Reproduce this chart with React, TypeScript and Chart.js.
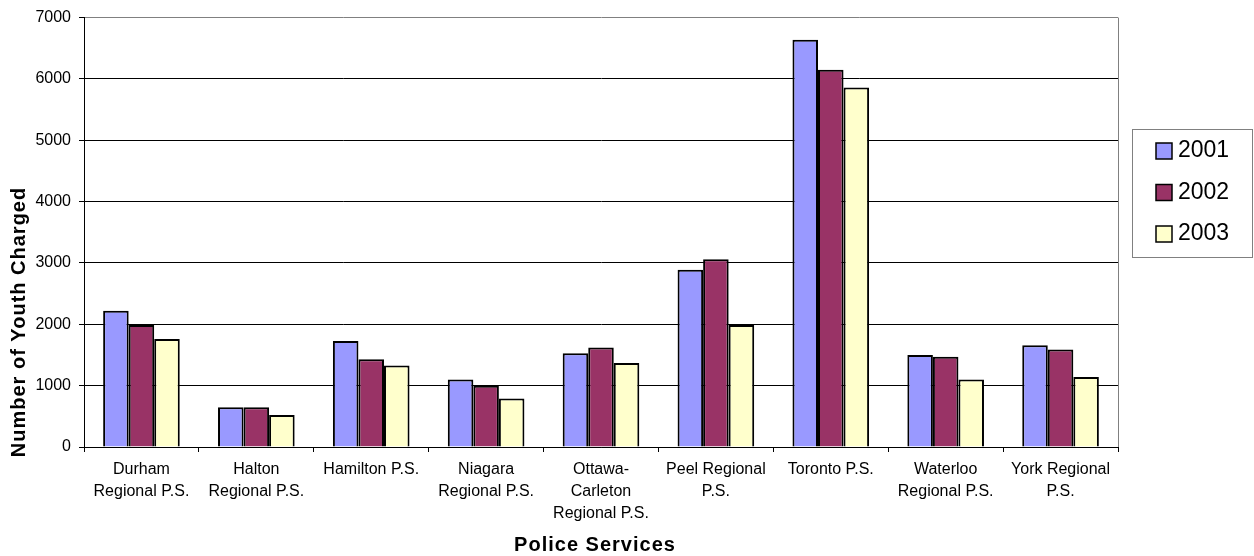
import React, { useEffect, useRef } from "react";
import { Chart, registerables } from "chart.js";

Chart.register(...registerables);

const categories: string[][] = [
  ["Durham", "Regional P.S."],
  ["Halton", "Regional P.S."],
  ["Hamilton P.S."],
  ["Niagara", "Regional P.S."],
  ["Ottawa-", "Carleton", "Regional P.S."],
  ["Peel Regional", "P.S."],
  ["Toronto P.S."],
  ["Waterloo", "Regional P.S."],
  ["York Regional", "P.S."],
];

const years = ["2001", "2002", "2003"];
const values2001 = [2220, 650, 1730, 1100, 1530, 2890, 6640, 1500, 1660];
const values2002 = [1990, 650, 1430, 1000, 1620, 3060, 6150, 1470, 1590];
const values2003 = [1760, 520, 1330, 790, 1370, 1990, 5860, 1100, 1140];
const seriesColors = ["#9999FF", "#993366", "#FFFFCC"];

const yTitle = "Number of Youth Charged";
const xTitle = "Police Services";
const yMax = 7000;
const yStep = 1000;

const FONT = "'Liberation Sans', Arial, sans-serif";

const decorPlugin = {
  id: "decor",
  afterDraw(chart: any) {
    const { ctx, chartArea } = chart;
    ctx.save();
    // right border of plot area
    ctx.strokeStyle = "#808080";
    ctx.lineWidth = 1;
    ctx.beginPath();
    ctx.moveTo(Math.round(chartArea.right) + 0.5, chartArea.top);
    ctx.lineTo(Math.round(chartArea.right) + 0.5, chartArea.bottom);
    ctx.stroke();

    // axis titles
    ctx.fillStyle = "#000";
    ctx.font = `bold 20px ${FONT}`;
    try { (ctx as any).letterSpacing = "1px"; } catch (e) {}
    ctx.textAlign = "center";
    ctx.textBaseline = "middle";
    ctx.fillText(xTitle, 595, 545);
    ctx.save();
    ctx.translate(19, 322);
    ctx.rotate(-Math.PI / 2);
    ctx.fillText(yTitle, 0, 0);
    ctx.restore();
    try { (ctx as any).letterSpacing = "0px"; } catch (e) {}

    // legend
    const lx = 1132, ly = 129, lw = 120, lh = 128;
    ctx.strokeStyle = "#808080";
    ctx.lineWidth = 1;
    ctx.strokeRect(lx + 0.5, ly + 0.5, lw, lh);
    ctx.font = `23px ${FONT}`;
    ctx.textAlign = "left";
    ctx.textBaseline = "middle";
    chart.data.datasets.forEach((ds: any, i: number) => {
      const sy = 143 + i * 41.5;
      ctx.fillStyle = ds.backgroundColor;
      ctx.fillRect(1156, sy, 16, 16);
      ctx.strokeStyle = "#000";
      ctx.lineWidth = 1.5;
      ctx.strokeRect(1156, sy, 16, 16);
      ctx.fillStyle = "#000";
      ctx.fillText(ds.label, 1178, sy + 8);
    });
    ctx.restore();
  },
};

export default function App() {
  const canvasRef = useRef<HTMLCanvasElement | null>(null);

  useEffect(() => {
    if (!canvasRef.current) return;
    const series = [values2001, values2002, values2003];
    const chart = new Chart(canvasRef.current, {
      type: "bar",
      data: {
        labels: categories,
        datasets: years.map((y, i) => ({
          label: y,
          data: series[i],
          backgroundColor: seriesColors[i],
          borderColor: "#000",
          borderWidth: 2,
          categoryPercentage: 0.667,
          barPercentage: 1,
        })),
      },
      options: {
        animation: false,
        responsive: true,
        maintainAspectRatio: false,
        layout: { padding: { top: 17, right: 136, left: 0, bottom: 0 } },
        plugins: {
          legend: { display: false },
          tooltip: { enabled: false },
          title: { display: false },
        },
        scales: {
          x: {
            afterFit: (scale: any) => {
              scale.height = 109;
            },
            grid: {
              offset: true,
              drawOnChartArea: false,
              drawTicks: true,
              tickLength: 5,
              tickColor: "#000",
            },
            border: { color: "#000", width: 1 },
            ticks: {
              color: "#000",
              font: { family: FONT, size: 16, lineHeight: 1.36 },
              padding: 7,
              maxRotation: 0,
              autoSkip: false,
            },
          },
          y: {
            min: 0,
            max: yMax,
            afterFit: (scale: any) => {
              scale.width = 84;
            },
            grid: {
              color: (c: any) => (c.tick && c.tick.value === yMax ? "#808080" : "#000"),
              lineWidth: 1,
              drawTicks: true,
              tickLength: 5,
              tickColor: "#000",
            },
            border: { color: "#000", width: 1 },
            ticks: {
              stepSize: yStep,
              color: "#000",
              font: { family: FONT, size: 16 },
              padding: 8,
              callback: (v: any) => String(v),
            },
          },
        },
      },
      plugins: [decorPlugin],
    });
    return () => chart.destroy();
  }, []);

  return (
    <div style={{ position: "fixed", left: 0, top: 0, width: 1254, height: 556, background: "#fff" }}>
      <canvas ref={canvasRef} />
    </div>
  );
}
